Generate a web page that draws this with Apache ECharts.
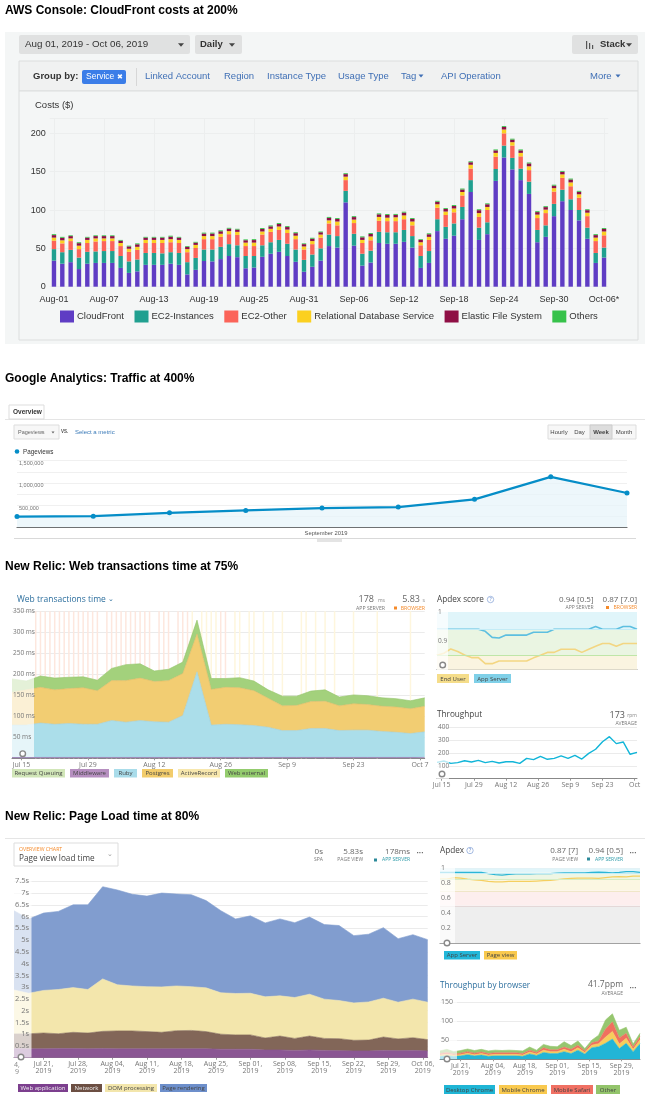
<!DOCTYPE html>
<html>
<head>
<meta charset="utf-8">
<title>Dashboards</title>
<script src="https://cdn.jsdelivr.net/npm/echarts@6/dist/echarts.min.js"></script>
<style>
html, body { margin: 0; padding: 0; background: #fff; }
#main { width: 661px; height: 1112px; }
</style>
</head>
<body>
<div id="main"></div>
<script>
// ---- AWS daily costs, Aug-01 .. Oct-06
var cloudFront = [34,30,32,23,30,31,31,31,24.5,18,
	20,28.5,28.5,28.5,30,28.5,16,22,33.5,33,
	36,40,38.5,24,25,39,43,45.5,40,32.5,
	19.5,26,34,53,51,110,53.5,27.5,31.5,57,
	56,56,58.5,51,24.5,31,72.5,62.5,66.5,88,
	123.5,61,68.5,138,168.5,153,139,121,58,65,
	92,111.5,100,86.5,62.5,31,38];
var ec2Instances = [15,15,16,15,15.5,15,15.5,15.5,15.5,15,
	15.5,15.5,15.5,15,15,15.5,16,15.5,15,15.5,
	16,15.5,15.5,16,15,15,15,15.5,16,16,
	15.5,16,16,15,15,15,15.5,15.5,15.5,14.5,
	15,15,15.5,15,15.5,15.5,15.5,15.5,16,16,
	15.5,16,15.5,15.5,15.5,15,15,16,16,15,
	16,15,14,13.5,14.5,13,13];
var ec2Other = [11,11.5,11.5,11,11.5,13,13,13,13,12.5,
	12.5,13,13,13.5,13,13,13,13,13.5,13.5,
	13,13,13.5,13,13,14,13.5,13,14,13.5,
	13.5,13.5,14,14.5,14,14,14,14,13.5,14.5,
	14.5,14.5,14,14,14,14.5,15,15.5,14.5,15,
	15,14,16,16,16,16,16,15,15.5,16,
	16,15.5,17,16,15,15.5,16];
var rdsCost = [4,4,3.5,4.5,4,4,3.5,3.5,4,4,
	4,4,4,4,4,4,4,4,4,4,
	4,4,4,4.5,4.5,4,4,4.5,4.5,4.5,
	4,4,4,4,5,4.5,4.5,4,5,5,
	4.5,5,5,5,4,4,4.5,4.5,5,4.5,
	5,5,4,5,5,4.5,4.5,5,4.5,4.5,
	4.5,4.5,5,4.5,4.5,4.5,5];
var efsCost = [3.3,3.3,3,3.3,3,3,3,3,3,3,
	3.3,3,3,3,3.3,3,3,3,3.3,3.3,
	3.3,3.2,3,3.1,3.3,3.3,3.2,3.3,3.3,3.3,
	3,3.1,3,3.3,3.3,3.3,3.3,3.4,3.2,3.4,
	3.5,3.2,3.6,3.4,3,3.4,3.3,3.3,3.3,3.3,
	3.3,3.8,3.5,3.3,3.4,3.3,3.3,3.8,3.3,3.3,
	3.3,3.3,3.8,3.3,3.3,3.3,3.3];
var otherCost = [1.2,1.2,1,1.2,1,1,1,1,1,1,
	1.2,1,1,1,1.2,1,1,1,1.2,1.2,
	1.2,1.1,1,1.1,1.2,1.2,1.2,1.2,1.2,1.2,
	1,1.2,1,1.2,1.2,1.2,1.2,1.2,1.2,1.2,
	1.2,1.2,1.2,1.2,1,1.2,1.2,1.2,1.2,1.2,
	1.2,1.2,1.2,1.2,1.2,1.2,1.2,1.2,1.2,1.2,
	1.2,1.2,1.2,1.2,1.2,1.2,1.2];

// ---- Google Analytics weekly pageviews
var gaWeeks = ['W1','W2','W3','W4','W5','W6','W7','W8','W9'];
var gaPageviews = [242000,250000,326000,379000,432000,455000,629000,1136000,773000];

// ---- New Relic web transactions, one point every 3 days from Jul 13
var wtMiddleware = [2,2,2,2,2,2,2,2,2,2,2,2,2,2,2,2,2,2,2,2,2,2,2,2,2,2,2,2,2,2];
var wtRuby = [77,77,82,79,81,79,79,88,84,88,85,84,100,204,77,79,78,76,72,64,64,69,69,64,65,65,62,60,57,61];
var wtPostgres = [78,84,85,82,83,87,80,95,99,101,96,99,100,90,85,88,88,83,69,59,60,64,65,59,63,61,60,60,59,61];
var wtExternal = [32,21,27,28,27,26,25,29,38,34,25,27,27,33,26,21,24,23,20,23,22,25,27,21,21,21,20,20,19,20];
var wtPinkDays = [5,6,7,8,9,10,11,12,13,14,15,16,17,18,20,21,22,23,24,25,26,27,28,29,31,32,33,35,36,37,44,45];
var wtYellowDays = [38,40,41,42,43,47,48,50,51,53,55,57,61,62,64,66,68,72,77,84];

// ---- New Relic apdex and throughput beside it
var apdexApp = [.94,.94,.94,.94,.94,.94,.94,.933,.912,.91,.92,.92,.92,.92,.93,.93,.93,.94,.94,.94,.94,.94,.94,.95,.94,.94,.94,.95,.95,.94];
var apdexUser = [.85,.857,.872,.863,.851,.842,.842,.821,.821,.83,.83,.83,.83,.83,.841,.85,.86,.86,.871,.871,.871,.86,.871,.881,.891,.891,.881,.891,.891,.891];
var throughputRpm = [127,138,119,125,140,130,143,125,135,122,132,132,119,158,148,174,151,158,177,158,182,153,197,229,288,327,273,286,190,205];

// ---- New Relic page load, one point every 3 days from Jul 15
var plWeb = [.39,.38,.38,.39,.39,.38,.39,.38,.38,.38,.38,.38,.38,.38,.36,.36,.36,.33,.33,.31,.33,.31,.3,.29,.29,.31,.3,.31,.29];
var plNetwork = [.62,.64,.67,.63,.69,.67,.73,.76,.76,.73,.7,.77,.78,.73,.64,.61,.61,.51,.59,.51,.59,.51,.51,.45,.46,.57,.5,.54,.48];
var plDom = [1.87,1.72,1.81,1.88,1.9,1.85,2.23,1.96,1.91,1.91,1.93,1.9,1.86,1.86,1.76,1.76,1.77,1.75,1.71,1.74,1.78,1.67,1.62,1.59,1.62,1.65,1.56,1.64,1.59];
var plRender = [3.37,3.16,3.29,3.32,3.52,3.6,3.92,4.03,3.9,3.85,3.99,3.91,3.91,3.71,3.49,3.17,3.29,3.14,3.27,3.18,3.28,3.17,3.19,2.86,2.88,3,2.7,2.74,2.66];

// ---- second apdex and throughput by browser, every 3 days from Jul 12
var apdex2App = [.945,.945,.945,.945,.945,.945,.945,.93,.915,.91,.92,.925,.925,.925,.93,.93,.93,.935,.94,.94,.94,.94,.945,.95,.945,.94,.945,.955,.955,.945];
var apdex2Page = [.855,.855,.875,.87,.855,.845,.84,.825,.82,.82,.825,.825,.825,.825,.83,.835,.84,.85,.86,.865,.87,.87,.87,.865,.875,.885,.89,.885,.895,.895];
var brDesktop = [8,9,8,9,12,9,11,8,9,9,9,9,8,14,10,18,15,15,20,15,24,14,30,33,42,53,28,42,20,41];
var brChrome = [3,4,3,3,4,3,4,3,4,4,4,4,3,5,4,6,5,5,6,5,6,4,7,8,16,20,12,13,6,10];
var brSafari = [4,5,3,4,4,4,4,4,4,4,4,4,4,5,4,6,5,5,6,6,7,4,6,7,21,25,16,13,6,8];
var brOther = [7,8,6,7,7,7,7,7,7,6,7,6,7,8,6,9,9,8,14,10,11,6,7,15,24,21,20,16,8,9];

var awsLegend = ['CloudFront','EC2-Instances','EC2-Other','Relational Database Service','Elastic File System','Others'];
var awsColors = ['#5f3dc4','#20a090','#fb6459','#fbd020','#8f0f45','#36c24a'];
var months = ['Jan','Feb','Mar','Apr','May','Jun','Jul','Aug','Sep','Oct','Nov','Dec'];

var NR = '"Open Sans", sans-serif';
var HV = '"Liberation Sans", Arial, sans-serif';

// daily category names starting from a month (0 based) and a day
function makeDays(month, day, n, sep) {
	var list = [];
	for (var i = 0; i < n; i++) {
		var d = new Date(2019, month, day + i);
		var dd = d.getDate();
		if (sep == '-') {
			list.push(months[d.getMonth()] + '-' + (dd < 10 ? '0' + dd : dd));
		} else {
			list.push(months[d.getMonth()] + ' ' + dd);
		}
	}
	return list;
}
// the New Relic series hold one value every 3 days on a daily axis
function every3(values) {
	return values.map(function (v, i) { return [i * 3, v]; });
}
function onDays(days, value) {
	return days.map(function (d) { return [d, value]; });
}

var awsDays = makeDays(7, 1, 67, '-');
awsDays[66] = 'Oct-06*';
var wtDays = makeDays(6, 13, 88);
var plDays = makeDays(6, 15, 85);
var br2Days = makeDays(6, 12, 88);

function plLabel(name) {
	var p = name.split(' ');
	return p[0] + ' ' + (p[1].length < 2 ? '0' + p[1] : p[1]) + ',\n2019';
}

// ---- page furniture, drawn with graphic elements
var gfx = [];
function rect(x, y, w, h, fill, stroke, z, r) {
	gfx.push({ type: 'rect', silent: true, z: z === undefined ? 60 : z,
		shape: { x: x, y: y, width: w, height: h, r: r || 0 },
		style: { fill: fill, stroke: stroke || null, lineWidth: stroke ? 1 : 0 } });
}
function text(x, y, s, size, color, family, align, weight) {
	gfx.push({ type: 'text', silent: true, z: 61, x: x, y: y,
		style: { text: s, fontSize: size, fontFamily: family || HV, fontWeight: weight || 'normal', fill: color,
			align: align || 'left', verticalAlign: 'middle', textAlign: align || 'left', textVerticalAlign: 'middle' } });
}
function caret(x, y, color, s) {
	s = s || 3;
	gfx.push({ type: 'polygon', silent: true, z: 61,
		shape: { points: [[x - s, y - s * 0.6], [x + s, y - s * 0.6], [x, y + s * 0.6]] },
		style: { fill: color } });
}
function ring(x, y) {
	gfx.push({ type: 'circle', silent: true, z: 71, shape: { cx: x, cy: y, r: 2.8 },
		style: { fill: '#fff', stroke: '#888', lineWidth: 1.4 } });
}
function chip(x, y, w, h, fill, label, color) {
	rect(x, y, w, h, fill);
	text(x + w / 2, y + h / 2 + 0.3, label, 6, color || '#444', NR, 'center');
}
function heading(y, s) {
	text(5, y, s, 12, '#000', HV, 'left', 'bold');
}

heading(10.5, 'AWS Console: CloudFront costs at 200%');
heading(379, 'Google Analytics: Traffic at 400%');
heading(567, 'New Relic: Web transactions time at 75%');
heading(817, 'New Relic: Page Load time at 80%');

// AWS console
rect(5, 32, 640, 312, '#f4f6f6', null, 0);
rect(19, 35, 171, 19, '#e0e1e1', null, 0, 2);
text(25, 44.5, 'Aug 01, 2019 - Oct 06, 2019', 9.8, '#333');
caret(181, 45, '#444');
rect(195, 35, 47, 19, '#e0e1e1', null, 0, 2);
text(200, 44.5, 'Daily', 9.5, '#333', HV, 'left', 'bold');
caret(232, 45, '#444');
rect(572, 35, 66, 19, '#e0e1e1', null, 0, 2);
text(600, 44.5, 'Stack', 9.5, '#333', HV, 'left', 'bold');
caret(629, 45, '#444');
rect(586, 41, 1.2, 8, '#555');
rect(589, 43, 1.2, 6, '#555');
rect(592, 45, 1.2, 4, '#555');
rect(19, 61, 619, 30, '#f0f1f1', '#dcdede', 0);
rect(19, 91, 619, 249, '#f4f6f6', '#dcdede', 0);
text(33, 76, 'Group by:', 9.5, '#333', HV, 'left', 'bold');
rect(82, 70, 44, 14, '#3b7de8', null, 60, 2);
text(86, 77, 'Service', 8.5, '#fff');
text(117, 77, '\u2716', 7, '#fff');
rect(136, 68, 0.7, 18, '#ccc');
var awsLinks = [['Linked Account', 145], ['Region', 224], ['Instance Type', 267], ['Usage Type', 338], ['Tag', 401], ['API Operation', 441], ['More', 590]];
awsLinks.forEach(function (l) { text(l[1], 76.5, l[0], 9.5, '#3f6fb5'); });
caret(421, 76, '#3f6fb5', 2.5);
caret(618, 76, '#3f6fb5', 2.5);
text(35, 105.5, 'Costs ($)', 9.5, '#333');

// Google Analytics
rect(9, 405, 35, 14, '#fff', '#ddd');
text(13, 412, 'Overview', 6.5, '#333', HV, 'left', 'bold');
rect(5, 419, 640, 0.8, '#ddd');
rect(14, 425, 45, 14, '#f7f7f7', '#ddd');
text(18, 432, 'Pageviews', 5.5, '#666');
caret(53, 432.5, '#666', 1.5);
text(61, 431.5, 'VS.', 4.5, '#555', HV, 'left', 'bold');
text(75, 432, 'Select a metric', 6, '#3a7ab8');
rect(548, 425, 88, 14, '#f7f7f7', '#ddd');
rect(590, 425, 22, 14, '#ddd', '#ccc');
var gaButtons = [['Hourly', 559], ['Day', 579.5], ['Week', 601], ['Month', 624]];
gaButtons.forEach(function (b) { text(b[1], 432, b[0], 6, '#444', HV, 'center', b[0] == 'Week' ? 'bold' : 'normal'); });
gfx.push({ type: 'circle', silent: true, z: 61, shape: { cx: 17, cy: 451.5, r: 2.3 }, style: { fill: '#058dc7' } });
text(23, 452, 'Pageviews', 6.3, '#333');
text(326, 533, 'September 2019', 5.8, '#555', HV, 'center');
rect(14, 538, 622, 0.7, '#ccc');
rect(317, 539, 25, 3, '#e4e4e4');

// New Relic web transactions
text(17, 599.5, 'Web transactions time', 8.5, '#2d6f9e', NR);
text(111, 599, '\u2304', 7, '#2d6f9e', NR, 'center');
text(374, 599.5, '178', 9, '#666', NR, 'right');
text(385, 600.5, 'ms', 5, '#888', NR, 'right');
text(385, 608.5, 'APP SERVER', 5.2, '#777', NR, 'right');
text(420, 599.5, '5.83', 9, '#666', NR, 'right');
text(425, 600.5, 's', 5, '#888', NR, 'right');
rect(394, 606.5, 3, 3, '#f58a2a');
text(425, 608.5, 'BROWSER', 5.2, '#f58a2a', NR, 'right');
rect(12, 612, 22, 145, 'rgba(255,255,255,0.7)');
ring(22.7, 753.7);
var wtChips = [['Request Queuing', 12, 53, '#d1e6b8'], ['Middleware', 70, 39, '#b68fc0'], ['Ruby', 114, 23, '#a9dcea'], ['Postgres', 142, 31, '#f2cc6b'], ['ActiveRecord', 178, 42, '#f7e7ad'], ['Web external', 225, 43, '#94cc6e']];
wtChips.forEach(function (c) { chip(c[1], 769, c[2], 8.5, c[3], c[0]); });

// apdex score panel
text(437, 600, 'Apdex score', 8.2, '#444', NR);
gfx.push({ type: 'circle', silent: true, z: 61, shape: { cx: 490.5, cy: 599.5, r: 3.2 }, style: { fill: 'none', stroke: '#7f9fd6', lineWidth: 0.7 } });
text(490.5, 599.5, '?', 5, '#5f83c6', NR, 'center');
text(593.5, 600, '0.94 [0.5]', 8, '#666', NR, 'right');
text(637, 600, '0.87 [7.0]', 8, '#666', NR, 'right');
text(593.5, 608, 'APP SERVER', 5, '#777', NR, 'right');
text(637, 608, 'BROWSER', 5, '#f58a2a', NR, 'right');
rect(606, 606, 3, 3, '#f58a2a');
rect(437, 612, 11, 58, 'rgba(255,255,255,0.7)');
ring(442.7, 665);
chip(437, 674, 32, 9, '#f5dd8a', 'End User');
chip(474, 674, 37, 9, '#7fd0e8', 'App Server');

// throughput panel
text(437, 715, 'Throughput', 8.2, '#444', NR);
text(625, 715, '173', 9, '#555', NR, 'right');
text(637, 716, 'rpm', 5, '#888', NR, 'right');
text(637, 723.5, 'AVERAGE', 5, '#777', NR, 'right');
rect(437, 728, 12, 51, 'rgba(255,255,255,0.7)');
ring(442, 774);

// New Relic page load
rect(5, 838, 640, 0.8, '#ddd');
rect(14, 843, 104, 23, '#fff', '#ddd');
text(19, 850, 'OVERVIEW CHART', 5.2, '#f58a2a', NR);
text(19, 858.5, 'Page view load time', 8.2, '#444', NR);
text(109.5, 854, '\u2304', 7, '#999', NR, 'center');
text(323, 851.5, '0s', 8, '#666', NR, 'right');
text(323, 860, 'SPA', 5, '#777', NR, 'right');
text(363, 851.5, '5.83s', 8, '#666', NR, 'right');
text(363, 860, 'PAGE VIEW', 5, '#777', NR, 'right');
text(410, 851.5, '178ms', 8, '#666', NR, 'right');
text(410, 860, 'APP SERVER', 5, '#2c9aa8', NR, 'right');
rect(374, 858.5, 3, 3, '#2c8a9a');
text(420, 853.5, '\u2022\u2022\u2022', 6, '#666', NR, 'center');
rect(14, 881, 17.5, 176.5, 'rgba(255,255,255,0.7)');
ring(21, 1057);
text(17, 1065, '4,', 7, '#888', NR, 'center');
text(17, 1071.5, '9', 7, '#888', NR, 'center');
chip(18, 1084, 50, 8, '#7c3f8e', 'Web application', '#eee');
chip(71, 1084, 31, 8, '#6c4f43', 'Network', '#eee');
chip(105, 1084, 52, 8, '#f3e6ac', 'DOM processing');
chip(160, 1084, 47, 8, '#6d8fcb', 'Page rendering');

// second apdex panel
text(440, 851, 'Apdex', 8.2, '#444', NR);
gfx.push({ type: 'circle', silent: true, z: 61, shape: { cx: 470, cy: 850.5, r: 3.2 }, style: { fill: 'none', stroke: '#7f9fd6', lineWidth: 0.7 } });
text(470, 850.5, '?', 5, '#5f83c6', NR, 'center');
text(578, 851, '0.87 [7]', 8, '#666', NR, 'right');
text(623, 851, '0.94 [0.5]', 8, '#666', NR, 'right');
text(578, 859.5, 'PAGE VIEW', 5, '#777', NR, 'right');
text(623, 859.5, 'APP SERVER', 5, '#2c9aa8', NR, 'right');
rect(587, 857.5, 3, 3, '#2c8a9a');
text(633, 853.5, '\u2022\u2022\u2022', 6, '#666', NR, 'center');
rect(440, 868, 15, 75, 'rgba(255,255,255,0.7)');
ring(447, 943);
chip(444, 951, 36, 8.5, '#23b7d9', 'App Server');
chip(484, 951, 33, 8.5, '#f9c94e', 'Page view');

// throughput by browser panel
text(440, 986, 'Throughput by browser', 8.2, '#2d6f9e', NR);
text(623, 985, '41.7ppm', 8.5, '#666', NR, 'right');
text(623, 994, 'AVERAGE', 5, '#777', NR, 'right');
text(633, 988, '\u2022\u2022\u2022', 6, '#666', NR, 'center');
rect(440, 1002, 17, 57, 'rgba(255,255,255,0.65)');
ring(447, 1059);
chip(444, 1085, 51, 9, '#1fb5d5', 'Desktop Chrome');
chip(499, 1085, 48, 9, '#f9c94e', 'Mobile Chrome');
chip(551, 1085, 42, 9, '#f07063', 'Mobile Safari');
chip(596, 1085, 24, 9, '#93c46b', 'Other');

// ---- grids and axes
var grids = [
	{ left: 49.8, top: 118, width: 558.4, height: 168.7 },
	{ left: 17, top: 460.7, width: 610, height: 66.6 },
	{ left: 12, top: 611.3, width: 412.7, height: 147 },
	{ left: 437, top: 612, width: 200, height: 57.7 },
	{ left: 437, top: 727.3, width: 200, height: 51.4 },
	{ left: 14, top: 881.3, width: 413.7, height: 176.4 },
	{ left: 440, top: 868.3, width: 200, height: 75 },
	{ left: 440, top: 1002, width: 200, height: 57.3 }
];

function tickOn(list) {
	return function (index) { return list.indexOf(index) >= 0; };
}
function nrXAxis(gridIndex, days, ticks, opts) {
	var a = {
		type: 'category', gridIndex: gridIndex, data: days, boundaryGap: false,
		axisLine: { lineStyle: { color: '#888', width: 1 } },
		axisTick: { show: !!ticks, interval: tickOn(ticks || []), length: 2, lineStyle: { color: '#999' } },
		axisLabel: { show: !!ticks, interval: tickOn(ticks || []), fontFamily: NR, fontSize: 7, color: '#777', margin: 3, hideOverlap: false },
		splitLine: { show: false }
	};
	if (opts && opts.formatter) a.axisLabel.formatter = opts.formatter;
	return a;
}
function nrYAxis(gridIndex, max, interval, fmt, min) {
	return {
		type: 'value', gridIndex: gridIndex, position: 'left', min: min || 0, max: max, interval: interval,
		axisLine: { show: false }, axisTick: { show: false },
		axisLabel: { inside: true, fontFamily: NR, fontSize: 6.5, color: '#777', margin: 1, formatter: fmt },
		splitLine: { lineStyle: { color: '#ebebeb', width: 1 } }
	};
}

var xAxes = [
	{
		type: 'category', gridIndex: 0, data: awsDays,
		axisLine: { show: false }, axisTick: { show: false },
		axisLabel: { interval: 5, fontFamily: HV, fontSize: 9, color: '#333', margin: 8, showMaxLabel: true },
		splitLine: { show: true, interval: 5, alignWithLabel: true, lineStyle: { color: '#eceeee' } }
	},
	{
		type: 'category', gridIndex: 1, data: gaWeeks, boundaryGap: false,
		axisLine: { lineStyle: { color: '#555', width: 1 } }, axisTick: { show: false }, axisLabel: { show: false }
	},
	nrXAxis(2, wtDays, [2, 16, 30, 44, 58, 72, 86]),
	nrXAxis(3, wtDays),
	nrXAxis(4, wtDays, [2, 16, 30, 44, 58, 72, 86], { formatter: function (v) { return v == 'Oct 7' ? 'Oct' : v; } }),
	nrXAxis(5, plDays, [6, 13, 20, 27, 34, 41, 48, 55, 62, 69, 76, 83], { formatter: plLabel }),
	nrXAxis(6, br2Days),
	nrXAxis(7, br2Days, [9, 23, 37, 51, 65, 79], { formatter: plLabel })
];

var yAxes = [
	{
		type: 'value', gridIndex: 0, min: 0, max: 220, interval: 50,
		axisLine: { show: false }, axisTick: { show: false },
		axisLabel: { fontFamily: HV, fontSize: 9, color: '#333', margin: 4, showMaxLabel: false },
		splitLine: { lineStyle: { color: '#eceeee' } }
	},
	{
		type: 'value', gridIndex: 1, min: 0, max: 1500000, interval: 250000,
		axisLine: { show: false }, axisTick: { show: false },
		axisLabel: {
			inside: true, fontFamily: HV, fontSize: 5.5, color: '#777', margin: 2, verticalAlign: 'top',
			formatter: function (v) { return (v && v % 500000 == 0) ? v.toLocaleString('en-US') : ''; }
		},
		splitLine: { lineStyle: { color: '#f0f0f0' } }
	},
	nrYAxis(2, 350, 50, function (v) { return v ? v + ' ms' : ''; }),
	nrYAxis(3, 1, 0.1, function (v) { return v == 1 ? '1' : (Math.abs(v - 0.9) < 0.001 ? '0.9' : ''); }, 0.8),
	nrYAxis(4, 400, 100, function (v) { return v ? String(v) : ''; }),
	nrYAxis(5, 7.5, 0.5, function (v) { return v ? v + 's' : ''; }),
	nrYAxis(6, 1, 0.2, function (v) { return v ? String(v) : ''; }),
	nrYAxis(7, 150, 50, function (v) { return v ? String(v) : ''; })
];
yAxes[3].splitLine.show = false;
yAxes[5].axisLabel.align = 'right';
yAxes[5].axisLabel.margin = 15;
yAxes[5].axisLabel.fontSize = 7.5;
yAxes[6].axisLabel.fontSize = 7;
yAxes[7].axisLabel.fontSize = 7;

// New Relic labels sit on top of the areas but the grid lines stay behind them,
// so every one of these charts gets a second axis just for the labels
for (var i = 2; i < 8; i++) {
	var base = yAxes[i];
	yAxes.push({
		type: 'value', gridIndex: base.gridIndex, position: 'left', min: base.min, max: base.max, interval: base.interval, z: 70,
		axisLine: { show: false }, axisTick: { show: false }, axisLabel: base.axisLabel, splitLine: { show: false }
	});
	base.axisLabel = { show: false };
}

// ---- series
var series = [];
function awsBar(i, values) {
	series.push({
		name: awsLegend[i], type: 'bar', stack: 'aws', xAxisIndex: 0, yAxisIndex: 0,
		barWidth: 4.4, data: values, itemStyle: { color: awsColors[i] }, silent: true
	});
}
[cloudFront, ec2Instances, ec2Other, rdsCost, efsCost, otherCost].forEach(function (v, i) { awsBar(i, v); });

series.push({
	name: 'Pageviews', type: 'line', xAxisIndex: 1, yAxisIndex: 1, data: gaPageviews, silent: true,
	symbol: 'circle', symbolSize: 5, lineStyle: { color: '#058dc7', width: 2.2 },
	itemStyle: { color: '#058dc7' }, areaStyle: { color: '#e6f3f9' }
});

function stackArea(name, grid, values, fill, line, stack) {
	series.push({
		name: name, type: 'line', stack: stack, xAxisIndex: grid, yAxisIndex: grid, z: 3,
		data: every3(values), symbol: 'none', silent: true,
		lineStyle: { color: line, width: 0.6 }, areaStyle: { color: fill, opacity: 1 }
	});
}
function plainLine(name, grid, values, color, width) {
	series.push({
		name: name, type: 'line', xAxisIndex: grid, yAxisIndex: grid, z: 3,
		data: every3(values), symbol: 'none', silent: true,
		lineStyle: { color: color, width: width }
	});
}
function stripes(name, days, color) {
	series.push({
		name: name, type: 'bar', xAxisIndex: 2, yAxisIndex: 2, z: 1, barWidth: 1.5, barGap: '-100%',
		data: onDays(days, 350), itemStyle: { color: color }, silent: true
	});
}
stripes('Violations', wtPinkDays, '#fde7de');
stripes('Tolerating', wtYellowDays, '#fef6dd');
stackArea('Middleware', 2, wtMiddleware, '#8d5fa0', '#8d5fa0', 'wt');
stackArea('Ruby', 2, wtRuby, '#abdeea', '#9ccfdc', 'wt');
stackArea('Postgres', 2, wtPostgres, '#f2cd72', '#e0b95f', 'wt');
stackArea('Web external', 2, wtExternal, '#a3d17c', '#93c46b', 'wt');

function bands(grid, list, lines) {
	series.push({
		name: 'bands' + grid, type: 'line', xAxisIndex: grid, yAxisIndex: grid, z: 1, data: [], silent: true,
		markArea: {
			silent: true,
			data: list.map(function (b) {
				return [{ yAxis: b[0], itemStyle: { color: b[2] } }, { yAxis: b[1] }];
			})
		},
		markLine: {
			silent: true, symbol: 'none', label: { show: false },
			data: lines.map(function (l) {
				return { yAxis: l[0], lineStyle: { color: l[1], width: 1, type: 'solid' } };
			})
		}
	});
}
var apdexBands = [[.94, 1, '#e0f5fa'], [.85, .94, '#eaf5e2'], [.8, .85, '#faf4e0']];
var apdexLines = [[.94, '#c4ecf6'], [.85, '#bfe6a8']];
var apdex2Bands = [[.94, 1, '#e0f5fa'], [.85, .94, '#eef6e4'], [.7, .85, '#fbf7e2'], [.5, .7, '#fdeeee'], [0, .5, '#eeeeee']];
var apdex2Lines = [[.94, '#c4ecf6'], [.85, '#d7ecc4'], [.7, '#f0e6c8'], [.5, '#e4d8d8']];
bands(3, apdexBands, apdexLines);
bands(6, apdex2Bands, apdex2Lines);
plainLine('App Server', 3, apdexApp, '#5dbfe0', 1.6);
plainLine('End User', 3, apdexUser, '#f3d682', 1.6);
plainLine('Throughput', 4, throughputRpm, '#11b5d8', 1.4);

stackArea('Web application', 5, plWeb, '#8a5693', '#8a5693', 'pl');
stackArea('Network', 5, plNetwork, '#826658', '#826658', 'pl');
stackArea('DOM processing', 5, plDom, '#f3e6ac', '#f3e6ac', 'pl');
stackArea('Page rendering', 5, plRender, '#819dcf', '#819dcf', 'pl');

plainLine('App Server 2', 6, apdex2App, '#2bb6d6', 1.2);
plainLine('Page view', 6, apdex2Page, '#f5cf60', 1.2);

stackArea('Desktop Chrome', 7, brDesktop, '#22b5d6', '#22b5d6', 'br');
stackArea('Mobile Chrome', 7, brChrome, '#f7cd5c', '#f7cd5c', 'br');
stackArea('Mobile Safari', 7, brSafari, '#f0705f', '#f0705f', 'br');
stackArea('Other', 7, brOther, '#96c66f', '#96c66f', 'br');

var myChart = echarts.init(document.getElementById('main'), null, { renderer: 'canvas' });
myChart.setOption({
	animation: false,
	backgroundColor: '#fff',
	tooltip: { show: false },
	legend: {
		left: 55, top: 305.5, data: awsLegend, itemWidth: 14, itemHeight: 12, itemGap: 10.5,
		selectedMode: false, icon: 'rect',
		textStyle: { fontFamily: HV, fontSize: 9.5, color: '#333', padding: [0, 0, 0, -2] }
	},
	grid: grids,
	xAxis: xAxes,
	yAxis: yAxes,
	series: series,
	graphic: { elements: gfx }
});
</script>
</body>
</html>
